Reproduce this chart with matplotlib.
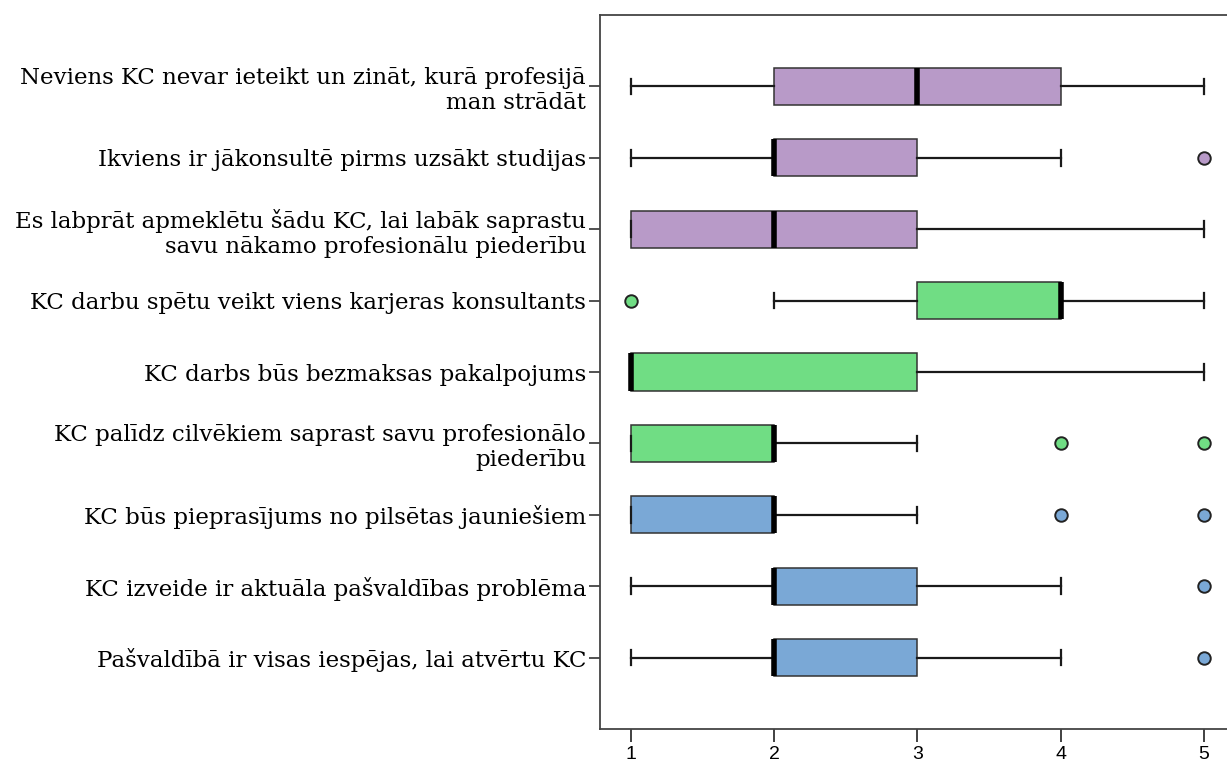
import numpy as np
import matplotlib.pyplot as plt
from matplotlib import rcParams

rcParams["font.family"] = "serif"
rcParams["font.serif"] = ["DejaVu Serif"]

# Data
labels = [
    "Neviens KC nevar ieteikt un zināt, kurā profesijā\nman strādāt",
    "Ikviens ir jākonsultē pirms uzsākt studijas",
    "Es labprāt apmeklētu šādu KC, lai labāk saprastu\nsavu nākamo profesionālu piederību",
    "KC darbu spētu veikt viens karjeras konsultants",
    "KC darbs būs bezmaksas pakalpojums",
    "KC palīdz cilvēkiem saprast savu profesionālo\npiederību",
    "KC būs pieprasījums no pilsētas jauniešiem",
    "KC izveide ir aktuāla pašvaldības problēma",
    "Pašvaldībā ir visas iespējas, lai atvērtu KC",
]
whislo = [1, 1, 1, 2, 1, 1, 1, 1, 1]
q1 = [2, 2, 1, 3, 1, 1, 1, 2, 2]
med = [3, 2, 2, 4, 1, 2, 2, 2, 2]
q3 = [4, 3, 3, 4, 3, 2, 2, 3, 3]
whishi = [5, 4, 5, 5, 5, 3, 3, 4, 4]
fliers = [[], [5], [], [1], [], [4, 5], [4, 5], [5], [5]]
groups = ["p", "p", "p", "g", "g", "g", "b", "b", "b"]

colors = {"p": "#b89ac8", "g": "#70dd84", "b": "#7aa8d6"}

fig = plt.figure(figsize=(12.27, 7.64), dpi=100)
ax = fig.add_axes([600/1227, 1 - 729/764, 627/1227, (729 - 15)/764])

pos = np.arange(1, len(labels) + 1)
for i in range(len(labels)):
    st = dict(whislo=whislo[i], q1=q1[i], med=med[i], q3=q3[i],
              whishi=whishi[i], fliers=fliers[i])
    c = colors[groups[i]]
    ax.bxp([st], positions=[pos[i]], vert=False, widths=0.52,
           patch_artist=True, showfliers=True,
           boxprops=dict(facecolor=c, edgecolor="#333333", lw=1.1),
           medianprops=dict(color="black", lw=4, solid_capstyle="butt"),
           whiskerprops=dict(color="#1a1a1a", lw=1.6),
           capprops=dict(color="#1a1a1a", lw=1.6),
           capwidths=0.22,
           flierprops=dict(marker="o", markersize=9, markerfacecolor=c,
                           markeredgecolor="#222222", markeredgewidth=1.4))

ax.set_ylim(10, 0)
ax.set_xlim(0.784, 5.161)
ax.set_yticks(pos)
ax.set_yticklabels(labels, fontsize=16.5, ha="right", multialignment="right",
                   linespacing=1.2)
ax.set_xticks([1, 2, 3, 4, 5])
ax.set_xticklabels(["1", "2", "3", "4", "5"], family="Liberation Sans", fontsize=14)
ax.tick_params(axis="x", length=9, width=1.3, color="#333333", pad=3)
ax.tick_params(axis="y", length=8, width=1.2, color="#333333", pad=2)
for s in ["top", "left", "bottom"]:
    ax.spines[s].set_color("#444444")
    ax.spines[s].set_linewidth(1.3)
ax.spines["right"].set_visible(False)

plt.savefig("out.png", dpi=100)
